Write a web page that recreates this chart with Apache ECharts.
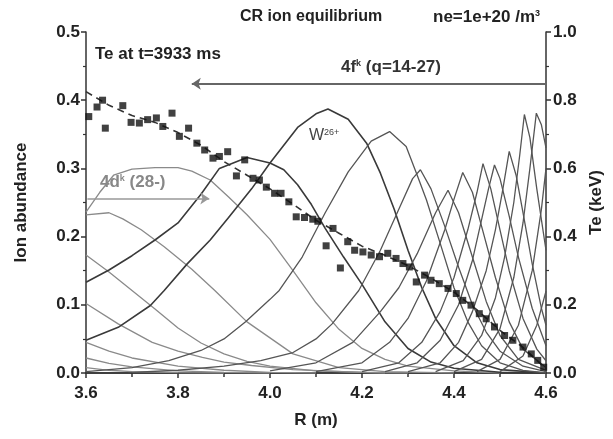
<!DOCTYPE html>
<html>
<head>
<meta charset="utf-8">
<script src="https://cdn.jsdelivr.net/npm/echarts@6/dist/echarts.min.js"></script>
<style>
html,body{margin:0;padding:0;background:#fff;}
#c{width:613px;height:439px;}
</style>
</head>
<body>
<div id="c"></div>
<script>
// ---- data: [R (m), abundance] ----
const q34 = [[3.6,0.008],[3.65,0.004],[3.7,0.002],[3.8,0.0005],[3.9,0]];
const q33 = [[3.6,0.022],[3.65,0.014],[3.7,0.009],[3.8,0.003],[3.9,0.001],[4.0,0]];
const q32 = [[3.6,0.045],[3.65,0.032],[3.7,0.022],[3.8,0.010],[3.9,0.004],[4.0,0.001],[4.1,0]];
const q31 = [[3.6,0.102],[3.67,0.072],[3.744,0.045],[3.8,0.032],[3.853,0.023],[3.9,0.016],[3.96,0.011],[4.05,0.005],[4.2,0.001],[4.3,0]];
const q30 = [[3.6,0.173],[3.65,0.148],[3.7,0.121],[3.75,0.094],[3.8,0.066],[3.85,0.044],[3.9,0.028],[3.95,0.017],[4.0,0.010],[4.1,0.003],[4.25,0]];
const q29 = [[3.6,0.232],[3.65,0.235],[3.68,0.226],[3.72,0.210],[3.77,0.185],[3.83,0.152],[3.88,0.121],[3.95,0.075],[4.05,0.028],[4.15,0.008],[4.25,0.002],[4.4,0]];
const q28 = [[3.6,0.236],[3.63,0.265],[3.66,0.290],[3.70,0.299],[3.75,0.301],[3.80,0.301],[3.83,0.296],[3.87,0.283],[3.91,0.258],[3.95,0.232],[4.0,0.196],[4.05,0.150],[4.10,0.103],[4.15,0.064],[4.20,0.036],[4.25,0.020],[4.30,0.010],[4.40,0.003],[4.5,0]];
const q27 = [[3.6,0.133],[3.65,0.151],[3.70,0.172],[3.75,0.195],[3.80,0.220],[3.85,0.262],[3.89,0.300],[3.95,0.316],[4.0,0.308],[4.03,0.298],[4.06,0.276],[4.09,0.247],[4.12,0.212],[4.16,0.170],[4.20,0.130],[4.25,0.075],[4.30,0.036],[4.35,0.016],[4.40,0.007],[4.50,0.001],[4.6,0]];
const q26 = [[3.6,0.048],[3.67,0.067],[3.74,0.099],[3.77,0.121],[3.82,0.160],[3.87,0.195],[3.91,0.228],[3.96,0.270],[4.0,0.308],[4.06,0.360],[4.10,0.380],[4.126,0.387],[4.17,0.372],[4.21,0.337],[4.24,0.293],[4.27,0.240],[4.30,0.180],[4.33,0.125],[4.36,0.080],[4.40,0.040],[4.45,0.015],[4.50,0.005],[4.6,0]];
const q25 = [[3.6,0.002],[3.70,0.008],[3.78,0.018],[3.85,0.033],[3.90,0.050],[3.947,0.075],[4.0,0.108],[4.02,0.121],[4.07,0.170],[4.12,0.235],[4.17,0.295],[4.22,0.340],[4.26,0.354],[4.296,0.332],[4.32,0.290],[4.34,0.254],[4.37,0.190],[4.40,0.125],[4.43,0.075],[4.46,0.040],[4.50,0.015],[4.55,0.004],[4.6,0]];
const q24 = [[3.70,0.001],[3.80,0.004],[3.90,0.010],[3.98,0.018],[4.05,0.030],[4.10,0.050],[4.135,0.072],[4.193,0.121],[4.24,0.180],[4.28,0.240],[4.31,0.285],[4.327,0.298],[4.35,0.270],[4.38,0.215],[4.41,0.155],[4.44,0.100],[4.47,0.060],[4.50,0.032],[4.55,0.010],[4.6,0.002]];
const q23 = [[4.0,0.003],[4.10,0.015],[4.18,0.045],[4.24,0.090],[4.28,0.125],[4.32,0.175],[4.36,0.235],[4.387,0.268],[4.41,0.235],[4.44,0.170],[4.47,0.105],[4.50,0.055],[4.54,0.020],[4.6,0.004]];
const q22 = [[4.10,0.002],[4.20,0.015],[4.26,0.045],[4.30,0.080],[4.34,0.135],[4.38,0.210],[4.40,0.255],[4.419,0.294],[4.44,0.265],[4.46,0.215],[4.49,0.140],[4.52,0.075],[4.55,0.035],[4.6,0.008]];
const q21 = [[4.20,0.002],[4.28,0.015],[4.33,0.045],[4.37,0.090],[4.40,0.140],[4.43,0.210],[4.45,0.265],[4.463,0.307],[4.48,0.270],[4.50,0.210],[4.52,0.150],[4.55,0.080],[4.58,0.035],[4.6,0.018]];
const q20 = [[4.25,0.002],[4.32,0.015],[4.37,0.048],[4.41,0.100],[4.44,0.165],[4.46,0.225],[4.475,0.270],[4.488,0.305],[4.50,0.285],[4.52,0.230],[4.54,0.170],[4.57,0.095],[4.6,0.040]];
const q19 = [[4.30,0.002],[4.37,0.015],[4.41,0.045],[4.44,0.090],[4.47,0.150],[4.49,0.210],[4.505,0.265],[4.52,0.325],[4.535,0.290],[4.55,0.235],[4.57,0.160],[4.59,0.095],[4.6,0.070]];
const q18 = [[4.36,0.002],[4.42,0.018],[4.46,0.055],[4.49,0.110],[4.51,0.170],[4.53,0.250],[4.543,0.320],[4.553,0.379],[4.565,0.345],[4.58,0.270],[4.6,0.180]];
const q17 = [[4.40,0.002],[4.46,0.020],[4.50,0.065],[4.53,0.140],[4.55,0.220],[4.565,0.300],[4.579,0.381],[4.59,0.364],[4.6,0.330]];
const q16 = [[4.45,0.002],[4.50,0.020],[4.54,0.070],[4.57,0.150],[4.59,0.240],[4.6,0.300]];
const q15 = [[4.50,0.002],[4.55,0.025],[4.58,0.070],[4.6,0.120]];

// ---- Te measurement: [R (m), Te (keV)] ----
const teData = [
 [3.606,0.752],[3.624,0.780],[3.636,0.800],[3.642,0.718],[3.680,0.784],[3.698,0.735],[3.716,0.733],
 [3.734,0.743],[3.753,0.748],[3.767,0.723],[3.787,0.762],[3.803,0.694],[3.823,0.718],[3.841,0.674],
 [3.858,0.654],[3.876,0.630],[3.890,0.635],[3.908,0.649],[3.927,0.578],[3.945,0.625],[3.963,0.571],
 [3.977,0.566],[3.992,0.545],[4.010,0.527],[4.024,0.527],[4.041,0.502],[4.057,0.458],[4.075,0.456],
 [4.093,0.451],[4.104,0.445],[4.122,0.373],[4.137,0.424],[4.153,0.308],[4.169,0.385],[4.184,0.360],
 [4.202,0.355],[4.220,0.346],[4.238,0.341],[4.256,0.351],[4.274,0.336],[4.289,0.321],[4.303,0.311],
 [4.318,0.267],[4.336,0.287],[4.350,0.272],[4.368,0.262],[4.387,0.248],[4.405,0.233],[4.419,0.213],
 [4.437,0.199],[4.455,0.174],[4.470,0.159],[4.488,0.135],[4.510,0.110],[4.528,0.096],[4.550,0.076],
 [4.568,0.056],[4.582,0.037],[4.595,0.017]
];
// ---- Te profile line: [R (m), Te (keV)] ----
const teFit = [[3.6,0.825],[3.65,0.785],[3.70,0.755],[3.75,0.735],[3.80,0.705],[3.85,0.668],[3.90,0.620],
 [3.95,0.580],[4.0,0.540],[4.05,0.495],[4.10,0.448],[4.15,0.410],[4.20,0.372],[4.25,0.345],[4.30,0.315],
 [4.35,0.278],[4.40,0.237],[4.45,0.185],[4.50,0.125],[4.55,0.075],[4.60,0.012]];

const xTicks = [3.6, 3.8, 4.0, 4.2, 4.4, 4.6];
const leftTicks = [0.0, 0.1, 0.2, 0.3, 0.4, 0.5];
const rightTicks = [0.0, 0.2, 0.4, 0.6, 0.8, 1.0];

const dCurves = [q34, q33, q32, q31, q30, q29, q28];
const fCurves = [q27, q26, q25, q24, q23, q22, q21, q20, q19, q18, q17, q16, q15];

const FONT = 'Liberation Sans';
const chart = echarts.init(document.getElementById('c'), null, {renderer: 'canvas'});

const series = [];
dCurves.forEach(d => series.push({
  type: 'line', data: d, showSymbol: false, symbol: 'none', silent: true,
  lineStyle: {color: '#8a8a8a', width: 1.3}, z: 2
}));
fCurves.forEach((d, i) => series.push({
  type: 'line', data: d, showSymbol: false, symbol: 'none', silent: true,
  lineStyle: {color: i < 2 ? '#3a3a3a' : '#555555', width: i < 2 ? 1.6 : 1.3}, z: 3
}));
series.push({
  type: 'line', data: teFit, yAxisIndex: 1, showSymbol: false, symbol: 'none', silent: true,
  lineStyle: {color: '#333', width: 1.6, type: [7, 5]}, z: 4
});
series.push({
  type: 'scatter', data: teData, yAxisIndex: 1, symbol: 'rect', symbolSize: 7,
  itemStyle: {color: '#111'}, z: 5
});
// annotation arrows
series.push({
  type: 'line', data: [], silent: true,
  markLine: {
    silent: true, symbol: ['none', 'arrow'], symbolSize: [9, 9], label: {show: false},
    data: [
      [{coord: [4.6, 0.424], lineStyle: {color: '#666', width: 2.2, type: 'solid'}, symbol: 'none'}, {coord: [3.83, 0.424], symbol: 'arrow'}],
      [{coord: [3.603, 0.256], lineStyle: {color: '#999', width: 1.5, type: 'solid'}, symbol: 'none'}, {coord: [3.868, 0.256], symbol: 'arrow'}]
    ]
  }
});

const axisLabelStyle = {color: '#222', fontFamily: FONT, fontWeight: 'bold', fontSize: 17};
const nameStyle = {color: '#222', fontFamily: FONT, fontWeight: 'bold', fontSize: 17};
const supTok = (c) => ({fontFamily: FONT, fontWeight: 'bold', fontSize: 9, color: c, verticalAlign: 'top'});

chart.setOption({
  animation: false,
  backgroundColor: '#fff',
  grid: {left: 86, right: 67, top: 32, bottom: 66},
  xAxis: [{
    type: 'value', min: 3.6, max: 4.6, interval: 0.2,
    axisLine: {lineStyle: {color: '#333', width: 1.5}},
    axisTick: {show: true, length: 5, lineStyle: {color: '#333', width: 1.5}},
    minorTick: {show: true, splitNumber: 2, length: 4, lineStyle: {color: '#333', width: 1.5}},
    splitLine: {show: false},
    axisLabel: Object.assign({margin: 12, formatter: v => {
      const t = xTicks.find(x => Math.abs(x - v) < 1e-6); return t !== undefined ? t.toFixed(1) : '';
    }}, axisLabelStyle),
    name: 'R (m)', nameLocation: 'middle', nameGap: 39, nameTextStyle: nameStyle
  }, {
    type: 'value', position: 'top', min: 3.6, max: 4.6, interval: 0.2,
    axisLine: {lineStyle: {color: '#333', width: 1.5}},
    axisTick: {show: true, inside: true, length: 5, lineStyle: {color: '#333', width: 1.5}},
    minorTick: {show: true, splitNumber: 2, length: 4, lineStyle: {color: '#333', width: 1.5}},
    splitLine: {show: false}, axisLabel: {show: false}
  }],
  yAxis: [{
    type: 'value', min: 0, max: 0.5, interval: 0.1,
    axisLine: {show: true, lineStyle: {color: '#333', width: 1.5}},
    axisTick: {show: true, length: 5, lineStyle: {color: '#333', width: 1.5}},
    minorTick: {show: true, splitNumber: 2, length: 3, lineStyle: {color: '#333', width: 1.2}},
    splitLine: {show: false},
    axisLabel: Object.assign({margin: 6, formatter: v => {
      const t = leftTicks.find(x => Math.abs(x - v) < 1e-6); return t !== undefined ? t.toFixed(1) : '';
    }}, axisLabelStyle),
    name: 'Ion abundance', nameLocation: 'middle', nameGap: 56, nameRotate: 90, nameTextStyle: nameStyle
  }, {
    type: 'value', min: 0, max: 1.0, interval: 0.2, position: 'right',
    axisLine: {show: true, lineStyle: {color: '#333', width: 1.5}},
    axisTick: {show: true, length: 5, lineStyle: {color: '#333', width: 1.5}},
    minorTick: {show: true, splitNumber: 2, length: 3, lineStyle: {color: '#333', width: 1.2}},
    splitLine: {show: false},
    axisLabel: Object.assign({margin: 7, formatter: v => {
      const t = rightTicks.find(x => Math.abs(x - v) < 1e-6); return t !== undefined ? t.toFixed(1) : '';
    }}, axisLabelStyle),
    name: 'Te (keV)', nameLocation: 'middle', nameGap: 40, nameRotate: 90, nameTextStyle: nameStyle
  }],
  graphic: [
    {type: 'text', left: 240, top: 9, style: {text: 'CR ion equilibrium', font: 'bold 16px "Liberation Sans"', fill: '#222'}},
    {type: 'text', left: 433, top: 9, style: {text: '{m|ne=1e+20 /m}{s|3}', fill: '#222',
      rich: {m: {fontFamily: FONT, fontWeight: 'bold', fontSize: 17, color: '#222'}, s: supTok('#222')}}},
    {type: 'text', left: 95, top: 46, style: {text: 'Te at t=3933 ms', font: 'bold 17px "Liberation Sans"', fill: '#222'}},
    {type: 'text', left: 341, top: 59, style: {text: '{m|4f}{s|k}{m| (q=14-27)}', fill: '#333',
      rich: {m: {fontFamily: FONT, fontWeight: 'bold', fontSize: 17, color: '#333'}, s: supTok('#333')}}},
    {type: 'text', left: 100, top: 174, style: {text: '{m|4d}{s|k}{m| (28-)}', fill: '#888',
      rich: {m: {fontFamily: FONT, fontWeight: 'bold', fontSize: 17, color: '#888'}, s: supTok('#888')}}},
    {type: 'text', left: 309, top: 128, style: {text: '{m|W}{s|26+}', fill: '#444',
      rich: {m: {fontFamily: FONT, fontSize: 16, color: '#444'}, s: {fontFamily: FONT, fontSize: 9, color: '#444', verticalAlign: 'top'}}}}
  ],
  series: series
});
</script>
</body>
</html>
